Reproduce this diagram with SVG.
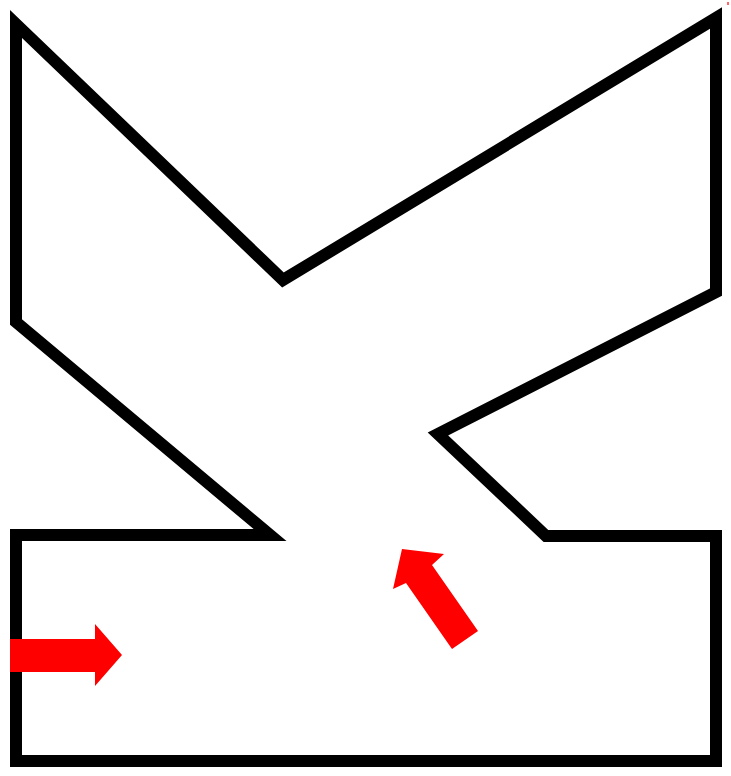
<svg xmlns="http://www.w3.org/2000/svg" width="731" height="776" viewBox="0 0 731 776">
<style>
.wall{fill:none;stroke:#000;stroke-width:12;stroke-linejoin:miter;stroke-miterlimit:10}
.arrow{fill:#ff0000;stroke:none}
</style>
<rect width="731" height="776" fill="#fff"/>
<g id="outline">
<polygon class="wall" points="16,24 283,280 716,18 716,292 438,434 546,536 716,536 716,761 16,761 16,535 270,535 16,322"/>
</g>
<g id="connectors">
<polygon class="arrow" points="10,639 95,639 95,624 122,655 95,686 95,672 10,672"/>
<polygon class="arrow" points="452,649 478,631 432,565 444,554 402,549 393,589 406,583"/>
<rect class="arrow" x="727" y="2" width="2" height="3" opacity="0.6"/>
</g>
</svg>
